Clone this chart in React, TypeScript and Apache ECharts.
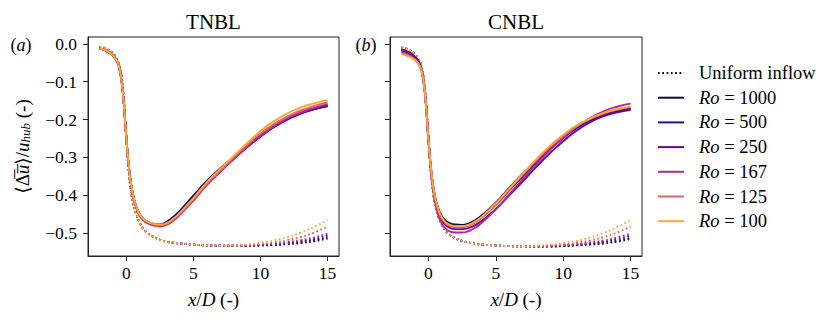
import React, { useEffect, useRef } from "react";
import * as echarts from "echarts";

// x/D sample positions
const X = [-2, -1.5, -1, -0.75, -0.5, -0.25, 0, 0.25, 0.5, 0.75, 1, 1.25, 1.5, 2, 2.5, 3, 3.5, 4, 5, 6, 7, 8, 9, 10, 11, 12, 13, 14, 15];

const RO = ["1000", "500", "250", "167", "125", "100"];
const COLORS = ["#0e0b3d", "#1c139a", "#6a00a8", "#b12a90", "#e16462", "#fca636"];

// TNBL solid (rotating inflow)
const tnbl1000 = [-0.012, -0.018, -0.030, -0.042, -0.066, -0.130, -0.245, -0.343, -0.398, -0.430, -0.450, -0.461, -0.468, -0.475, -0.477, -0.470, -0.457, -0.440, -0.401, -0.362, -0.329, -0.299, -0.270, -0.242, -0.218, -0.198, -0.183, -0.172, -0.164];
const tnbl500 = [-0.012, -0.018, -0.030, -0.042, -0.066, -0.130, -0.245, -0.343, -0.398, -0.431, -0.451, -0.462, -0.469, -0.476, -0.478, -0.471, -0.459, -0.442, -0.404, -0.365, -0.333, -0.302, -0.272, -0.244, -0.219, -0.199, -0.184, -0.172, -0.164];
const tnbl250 = [-0.012, -0.018, -0.030, -0.042, -0.066, -0.130, -0.245, -0.343, -0.399, -0.432, -0.452, -0.463, -0.470, -0.477, -0.479, -0.474, -0.462, -0.446, -0.409, -0.369, -0.336, -0.304, -0.273, -0.245, -0.220, -0.200, -0.184, -0.172, -0.163];
const tnbl167 = [-0.012, -0.018, -0.030, -0.042, -0.066, -0.130, -0.245, -0.344, -0.400, -0.434, -0.454, -0.465, -0.472, -0.479, -0.482, -0.478, -0.467, -0.451, -0.414, -0.373, -0.338, -0.304, -0.272, -0.243, -0.218, -0.197, -0.181, -0.169, -0.159];
const tnbl125 = [-0.012, -0.018, -0.030, -0.042, -0.066, -0.130, -0.245, -0.343, -0.398, -0.431, -0.451, -0.462, -0.469, -0.476, -0.479, -0.475, -0.464, -0.448, -0.410, -0.369, -0.334, -0.300, -0.267, -0.237, -0.212, -0.192, -0.176, -0.164, -0.155];
const tnbl100 = [-0.012, -0.018, -0.030, -0.042, -0.066, -0.130, -0.245, -0.343, -0.398, -0.430, -0.450, -0.461, -0.468, -0.475, -0.477, -0.473, -0.462, -0.446, -0.407, -0.366, -0.330, -0.296, -0.262, -0.230, -0.204, -0.184, -0.168, -0.157, -0.148];

// TNBL dotted (uniform inflow)
const tnblU1000 = [-0.008, -0.013, -0.025, -0.037, -0.060, -0.122, -0.245, -0.360, -0.418, -0.450, -0.472, -0.487, -0.497, -0.509, -0.517, -0.522, -0.525, -0.527, -0.530, -0.532, -0.533, -0.533, -0.533, -0.532, -0.531, -0.529, -0.526, -0.521, -0.514];
const tnblU500 = [-0.008, -0.013, -0.025, -0.037, -0.060, -0.122, -0.245, -0.360, -0.418, -0.450, -0.472, -0.487, -0.497, -0.509, -0.517, -0.522, -0.525, -0.527, -0.530, -0.532, -0.533, -0.533, -0.533, -0.532, -0.530, -0.527, -0.523, -0.518, -0.511];
const tnblU250 = [-0.008, -0.013, -0.025, -0.037, -0.060, -0.122, -0.245, -0.360, -0.418, -0.450, -0.472, -0.487, -0.497, -0.509, -0.517, -0.522, -0.525, -0.527, -0.530, -0.532, -0.533, -0.533, -0.533, -0.531, -0.529, -0.526, -0.521, -0.515, -0.506];
const tnblU167 = [-0.008, -0.013, -0.025, -0.037, -0.060, -0.122, -0.245, -0.360, -0.418, -0.450, -0.472, -0.487, -0.497, -0.509, -0.517, -0.522, -0.525, -0.527, -0.530, -0.532, -0.533, -0.533, -0.532, -0.530, -0.527, -0.523, -0.518, -0.511, -0.501];
const tnblU125 = [-0.008, -0.013, -0.025, -0.037, -0.060, -0.122, -0.245, -0.360, -0.418, -0.450, -0.472, -0.487, -0.497, -0.509, -0.517, -0.522, -0.525, -0.527, -0.530, -0.532, -0.533, -0.533, -0.531, -0.528, -0.524, -0.518, -0.510, -0.498, -0.482];
const tnblU100 = [-0.008, -0.013, -0.025, -0.037, -0.060, -0.122, -0.245, -0.360, -0.418, -0.450, -0.472, -0.487, -0.497, -0.509, -0.517, -0.522, -0.525, -0.527, -0.530, -0.532, -0.533, -0.532, -0.530, -0.525, -0.519, -0.510, -0.498, -0.483, -0.465];

// CNBL solid
const cnbl1000 = [-0.018, -0.024, -0.036, -0.047, -0.070, -0.132, -0.250, -0.348, -0.404, -0.436, -0.455, -0.466, -0.472, -0.477, -0.478, -0.474, -0.465, -0.452, -0.419, -0.380, -0.343, -0.307, -0.273, -0.244, -0.219, -0.200, -0.186, -0.177, -0.171];
const cnbl500 = [-0.016, -0.022, -0.034, -0.046, -0.069, -0.132, -0.250, -0.350, -0.407, -0.439, -0.458, -0.469, -0.475, -0.480, -0.481, -0.478, -0.469, -0.457, -0.425, -0.387, -0.350, -0.313, -0.279, -0.249, -0.223, -0.203, -0.188, -0.178, -0.172];
const cnbl250 = [-0.015, -0.021, -0.034, -0.046, -0.070, -0.133, -0.252, -0.353, -0.412, -0.446, -0.466, -0.478, -0.484, -0.489, -0.489, -0.486, -0.478, -0.466, -0.436, -0.400, -0.363, -0.325, -0.289, -0.257, -0.229, -0.207, -0.191, -0.181, -0.174];
const cnbl167 = [-0.022, -0.028, -0.040, -0.051, -0.074, -0.136, -0.256, -0.358, -0.419, -0.454, -0.475, -0.487, -0.494, -0.498, -0.498, -0.494, -0.485, -0.471, -0.437, -0.397, -0.357, -0.318, -0.281, -0.248, -0.219, -0.196, -0.178, -0.166, -0.158];
const cnbl125 = [-0.026, -0.031, -0.042, -0.052, -0.073, -0.134, -0.252, -0.351, -0.409, -0.442, -0.462, -0.473, -0.479, -0.484, -0.484, -0.480, -0.471, -0.458, -0.424, -0.385, -0.346, -0.308, -0.273, -0.243, -0.218, -0.199, -0.184, -0.174, -0.167];
const cnbl100 = [-0.028, -0.033, -0.043, -0.052, -0.072, -0.132, -0.250, -0.348, -0.405, -0.438, -0.458, -0.470, -0.476, -0.481, -0.481, -0.477, -0.468, -0.455, -0.421, -0.382, -0.343, -0.305, -0.270, -0.240, -0.215, -0.197, -0.182, -0.172, -0.165];

// CNBL dotted (uniform inflow)
const cnblU1000 = [-0.010, -0.015, -0.027, -0.039, -0.062, -0.125, -0.248, -0.363, -0.423, -0.456, -0.478, -0.492, -0.502, -0.513, -0.520, -0.525, -0.528, -0.530, -0.532, -0.534, -0.535, -0.535, -0.535, -0.534, -0.532, -0.530, -0.527, -0.522, -0.515];
const cnblU500 = [-0.010, -0.015, -0.027, -0.039, -0.062, -0.125, -0.248, -0.363, -0.423, -0.456, -0.478, -0.492, -0.502, -0.513, -0.520, -0.525, -0.528, -0.530, -0.532, -0.534, -0.535, -0.535, -0.535, -0.533, -0.531, -0.528, -0.524, -0.519, -0.512];
const cnblU250 = [-0.010, -0.015, -0.027, -0.039, -0.062, -0.125, -0.248, -0.363, -0.423, -0.456, -0.478, -0.492, -0.502, -0.513, -0.520, -0.525, -0.528, -0.530, -0.532, -0.534, -0.535, -0.535, -0.534, -0.532, -0.530, -0.527, -0.522, -0.515, -0.506];
const cnblU167 = [-0.010, -0.015, -0.027, -0.039, -0.062, -0.125, -0.248, -0.363, -0.423, -0.456, -0.478, -0.492, -0.502, -0.513, -0.520, -0.525, -0.528, -0.530, -0.532, -0.534, -0.535, -0.534, -0.533, -0.531, -0.528, -0.524, -0.519, -0.511, -0.501];
const cnblU125 = [-0.010, -0.015, -0.027, -0.039, -0.062, -0.125, -0.248, -0.363, -0.423, -0.456, -0.478, -0.492, -0.502, -0.513, -0.520, -0.525, -0.528, -0.530, -0.532, -0.534, -0.535, -0.534, -0.532, -0.529, -0.525, -0.519, -0.510, -0.498, -0.482];
const cnblU100 = [-0.010, -0.015, -0.027, -0.039, -0.062, -0.125, -0.248, -0.363, -0.423, -0.456, -0.478, -0.492, -0.502, -0.513, -0.520, -0.525, -0.528, -0.530, -0.532, -0.534, -0.535, -0.533, -0.530, -0.526, -0.520, -0.511, -0.499, -0.484, -0.465];

const X_TICKS = [0, 5, 10, 15];
const Y_TICKS = [-0.5, -0.4, -0.3, -0.2, -0.1, 0];
const TITLES = ["TNBL", "CNBL"];
const PANEL_TAGS = ["a", "b"];

const SOLID = [
  [tnbl1000, tnbl500, tnbl250, tnbl167, tnbl125, tnbl100],
  [cnbl1000, cnbl500, cnbl250, cnbl167, cnbl125, cnbl100],
];
const DOTTED = [
  [tnblU1000, tnblU500, tnblU250, tnblU167, tnblU125, tnblU100],
  [cnblU1000, cnblU500, cnblU250, cnblU167, cnblU125, cnblU100],
];

const FONT = "'Liberation Serif', 'DejaVu Serif', serif";
const AX = "#222";
const DOT: number[] = [1.7, 2.6];
const TICK_FS = 17.5;
const NAME_FS = 19;
const LEG_FS = 18.5;

export default function App() {
  const ref = useRef<HTMLDivElement>(null);
  useEffect(() => {
    document.body.style.margin = "0";
    if (!ref.current) return;
    const chart = echarts.init(ref.current, undefined, { renderer: "svg" });

    const grids = [
      { left: 88, top: 37, width: 251, height: 219 },
      { left: 390, top: 37, width: 252, height: 219 },
    ];

    const series: any[] = [];
    series.push({
      name: "Uniform inflow",
      type: "line",
      data: [],
      xAxisIndex: 0,
      yAxisIndex: 0,
      symbol: "none",
      color: "#000",
      lineStyle: { color: "#000", width: 1.7, type: DOT },
    });
    for (let p = 0; p < 2; p++) {
      for (let i = 0; i < RO.length; i++) {
        series.push({
          name: `uniform-${p}-${RO[i]}`,
          type: "line",
          xAxisIndex: p,
          yAxisIndex: p,
          data: X.map((x, j) => [x, DOTTED[p][i][j]]),
          symbol: "none",
          smooth: 0.5,
          silent: true,
          color: COLORS[i],
          lineStyle: { color: COLORS[i], width: 1.9, type: DOT },
          z: 2,
        });
      }
      for (let i = 0; i < RO.length; i++) {
        series.push({
          name: `Ro = ${RO[i]}`,
          type: "line",
          xAxisIndex: p,
          yAxisIndex: p,
          data: X.map((x, j) => [x, SOLID[p][i][j]]),
          symbol: "none",
          smooth: 0.5,
          silent: true,
          color: COLORS[i],
          lineStyle: { color: COLORS[i], width: 1.9 },
          z: 3,
        });
      }
    }

    const xAxes = [0, 1].map((p) => ({
      type: "value",
      gridIndex: p,
      min: -2.85,
      max: 15.85,
      name: "{i|x}{n|/}{i|D}{n| (-)}",
      nameLocation: "middle",
      nameGap: 34,
      nameTextStyle: {
        rich: {
          i: { fontFamily: FONT, fontSize: NAME_FS, fontStyle: "italic", color: "#000" },
          n: { fontFamily: FONT, fontSize: NAME_FS, color: "#000" },
        },
      },
      splitLine: { show: false },
      axisLine: { show: true, onZero: false, lineStyle: { color: AX, width: 1 } },
      axisTick: { show: true, length: 5, customValues: X_TICKS, lineStyle: { color: AX } },
      axisLabel: {
        customValues: X_TICKS,
        margin: 8,
        fontFamily: FONT,
        fontSize: TICK_FS,
        color: "#000",
        formatter: (v: number) => String(v),
      },
    }));

    const yAxes = [0, 1].map((p) => ({
      type: "value",
      gridIndex: p,
      min: -0.56,
      max: 0.018,
      name: p === 0 ? "{n|⟨}{n|Δ\u0305}{i|u\u0305}{n|⟩/}{i|u}{s|hub}{n| (-)}" : "",
      nameLocation: "middle",
      nameGap: 56,
      nameTextStyle: {
        rich: {
          i: { fontFamily: FONT, fontSize: NAME_FS, fontStyle: "italic", color: "#000" },
          n: { fontFamily: FONT, fontSize: NAME_FS, color: "#000" },
          s: { fontFamily: FONT, fontSize: 13, fontStyle: "italic", color: "#000", verticalAlign: "bottom", padding: [7, 0, 0, 0] },
        },
      },
      splitLine: { show: false },
      axisLine: { show: true, onZero: false, lineStyle: { color: AX, width: 1 } },
      axisTick: { show: true, length: 5, customValues: Y_TICKS, lineStyle: { color: AX } },
      axisLabel: {
        show: p === 0,
        customValues: Y_TICKS,
        margin: 11,
        fontFamily: FONT,
        fontSize: TICK_FS,
        color: "#000",
        formatter: (v: number) => (v < 0 ? "\u2212" + Math.abs(v).toFixed(1) : v.toFixed(1)),
      },
    }));

    const graphic: any[] = [];
    for (let p = 0; p < 2; p++) {
      const g = grids[p];
      graphic.push({
        type: "text",
        x: g.left + g.width / 2,
        y: 22,
        style: {
          text: TITLES[p],
          fontFamily: FONT,
          fontSize: 21,
          fill: "#000",
          align: "center",
          verticalAlign: "middle",
        },
      });
    }
    const tagX = [21, 366];
    for (let p = 0; p < 2; p++) {
      graphic.push({
        type: "text",
        x: tagX[p],
        y: 45,
        style: {
          text: `{n|(}{i|${PANEL_TAGS[p]}}{n|)}`,
          align: "center",
          verticalAlign: "middle",
          rich: {
            n: { fontFamily: FONT, fontSize: 18, fill: "#000" },
            i: { fontFamily: FONT, fontSize: 18, fontStyle: "italic", fill: "#000" },
          },
        },
      });
    }

    chart.setOption({
      animation: false,
      backgroundColor: "#fff",
      grid: grids.map((g) => ({ ...g, show: true, borderColor: AX, borderWidth: 1, backgroundColor: "transparent" })),
      xAxis: xAxes,
      yAxis: yAxes,
      legend: {
        orient: "vertical",
        left: 657,
        top: 63.5,
        padding: 0,
        itemWidth: 26,
        itemHeight: 14,
        itemGap: 24.2 - LEG_FS,
        selectedMode: false,
        itemStyle: { color: "rgba(0,0,0,0)", borderWidth: 0, opacity: 0 },
        data: ["Uniform inflow", ...RO.map((r) => `Ro = ${r}`)],
        textStyle: {
          fontFamily: FONT,
          fontSize: LEG_FS,
          color: "#000",
          padding: [0, 0, 0, 10],
          rich: {
            i: { fontFamily: FONT, fontSize: LEG_FS, fontStyle: "italic", color: "#000" },
            n: { fontFamily: FONT, fontSize: LEG_FS, color: "#000" },
          },
        },
        formatter: (name: string) => {
          if (name.startsWith("Ro = ")) return `{i|Ro}{n| = ${name.slice(5)}}`;
          return name;
        },
      },
      graphic,
      series,
    });
    return () => chart.dispose();
  }, []);
  return <div ref={ref} style={{ width: 831, height: 321 }} />;
}
